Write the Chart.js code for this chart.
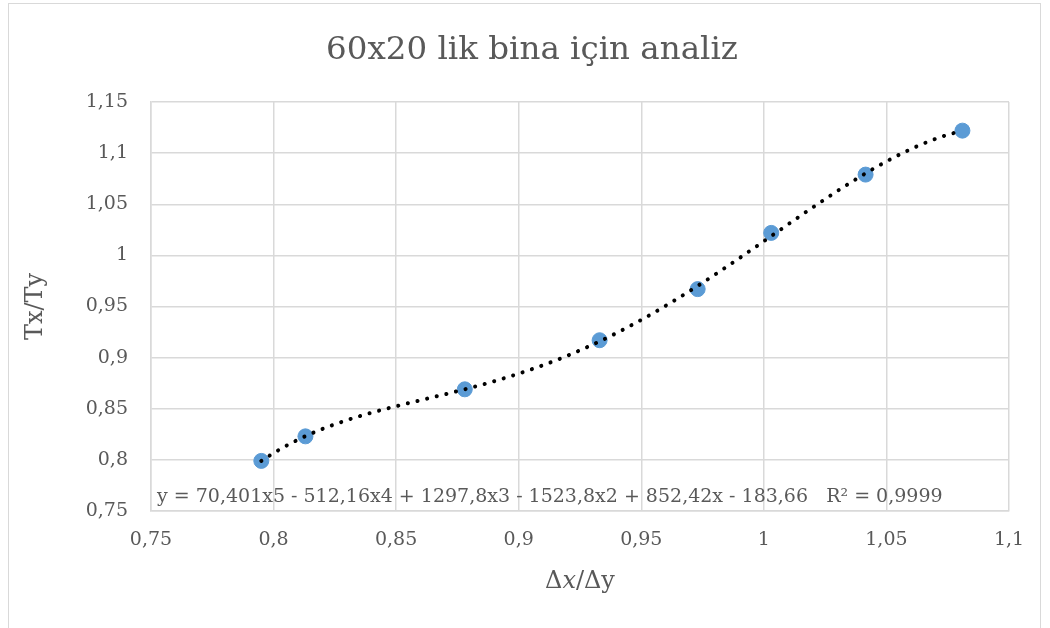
<!DOCTYPE html>
<html lang="tr">
<head>
    <meta charset="UTF-8">
    <title>60x20 lik bina için analiz</title>
    <script src="https://cdn.jsdelivr.net/npm/chart.js"></script>
    <style>
        html, body { margin: 0; padding: 0; background: #fff; }
        .frame {
            position: absolute; left: 8px; top: 3px; width: 1033px; height: 660px;
            border: 1px solid #d9d9d9; box-sizing: border-box;
        }
        .chart-box { position: absolute; left: 0; top: 0; width: 1050px; height: 628px; }
    </style>
</head>
<body>
    <div class="frame"></div>
    <div class="chart-box">
        <canvas id="grafik"></canvas>
    </div>

<script>
    // ölçülen değerler
    const dxdy = [0.795, 0.813, 0.878, 0.933, 0.973, 1.003, 1.0415, 1.081];
    const txty = [0.799, 0.823, 0.869, 0.917, 0.967, 1.022, 1.079, 1.122];
    // eksen sınırları ve adımlar
    const xEksen = { min: 0.75, max: 1.1, step: 0.05 };
    const yEksen = { min: 0.75, max: 1.15, step: 0.05 };
    const baslik = '60x20 lik bina için analiz';
    const denklem = 'y = 70,401x5 - 512,16x4 + 1297,8x3 - 1523,8x2 + 852,42x - 183,66   R² = 0,9999';

    const yazi = '"DejaVu Serif", "Liberation Serif", serif';
    const gri = '#595959';

    // 5. dereceden polinom eğilim çizgisi (en küçük kareler)
    function polinomUydur(xs, ys, derece) {
        const n = derece + 1;
        const ort = xs.reduce((a, b) => a + b, 0) / xs.length;
        const A = [], b = [];
        for (let i = 0; i < n; i++) {
            A.push(new Array(n).fill(0));
            b.push(0);
        }
        xs.forEach((x, k) => {
            const t = x - ort;
            for (let i = 0; i < n; i++) {
                for (let j = 0; j < n; j++) A[i][j] += Math.pow(t, i + j);
                b[i] += Math.pow(t, i) * ys[k];
            }
        });
        // gauss eliminasyonu
        for (let c = 0; c < n; c++) {
            let p = c;
            for (let r = c + 1; r < n; r++) if (Math.abs(A[r][c]) > Math.abs(A[p][c])) p = r;
            [A[c], A[p]] = [A[p], A[c]];
            [b[c], b[p]] = [b[p], b[c]];
            for (let r = c + 1; r < n; r++) {
                const f = A[r][c] / A[c][c];
                for (let j = c; j < n; j++) A[r][j] -= f * A[c][j];
                b[r] -= f * b[c];
            }
        }
        const k = new Array(n).fill(0);
        for (let i = n - 1; i >= 0; i--) {
            let s = b[i];
            for (let j = i + 1; j < n; j++) s -= A[i][j] * k[j];
            k[i] = s / A[i][i];
        }
        return x => k.reduce((s, c, i) => s + c * Math.pow(x - ort, i), 0);
    }

    const trend = polinomUydur(dxdy, txty, 5);
    const trendNoktalari = [];
    const x0 = Math.min(...dxdy), x1 = Math.max(...dxdy);
    for (let i = 0; i <= 120; i++) {
        const x = x0 + (x1 - x0) * i / 120;
        trendNoktalari.push({ x: x, y: trend(x) });
    }

    const virgul = v => String(Math.round(v * 100) / 100).replace('.', ',');

    // başlık (çerçevenin ortasında) ve denklem yazısı (çizim alanının sol altında)
    const yaziEklentisi = {
        id: 'yazilar',
        afterDraw(chart) {
            const ctx = chart.ctx, a = chart.chartArea;
            ctx.save();
            ctx.fillStyle = gri;
            ctx.font = '32.5px ' + yazi;
            ctx.textAlign = 'center';
            ctx.textBaseline = 'middle';
            ctx.fillText(baslik, (chart.width + 14) / 2, 51);
            ctx.font = '19px ' + yazi;
            ctx.textAlign = 'left';
            ctx.textBaseline = 'alphabetic';
            ctx.fillText(denklem, a.left + 6, a.bottom - 9);
            ctx.restore();
        }
    };

    const ctx = document.getElementById('grafik').getContext('2d');
    const grafik = new Chart(ctx, {
        type: 'scatter',
        data: {
            datasets: [
                {
                    label: 'Eğilim',
                    data: trendNoktalari,
                    showLine: true,
                    borderColor: '#000',
                    borderWidth: 4,
                    borderDash: [0.1, 9.8],
                    borderCapStyle: 'round',
                    pointRadius: 0,
                    order: 0
                },
                {
                    label: 'Tx/Ty',
                    data: dxdy.map((x, i) => ({ x: x, y: txty[i] })),
                    backgroundColor: '#5b9bd5',
                    borderColor: '#5b9bd5',
                    pointRadius: 7.5,
                    order: 1
                }
            ]
        },
        plugins: [yaziEklentisi],
        options: {
            responsive: true,
            maintainAspectRatio: false,
            animation: false,
            layout: { padding: { left: 0, right: 41, top: 102, bottom: 0 } },
            plugins: {
                legend: { display: false },
                tooltip: { enabled: false },
                title: { display: false }
            },
            scales: {
                x: {
                    type: 'linear',
                    min: xEksen.min,
                    max: xEksen.max,
                    afterFit: s => { s.height = 117; },
                    ticks: {
                        stepSize: xEksen.step,
                        color: gri,
                        font: { family: yazi, size: 19 },
                        padding: 18,
                        callback: virgul
                    },
                    grid: { color: '#d9d9d9', lineWidth: 1.5, drawTicks: false },
                    border: { color: '#d9d9d9', width: 1.5 },
                    title: {
                        display: true,
                        text: 'Δ𝑥/Δy',
                        color: gri,
                        font: { family: yazi, size: 24 },
                        padding: { top: 8, bottom: 32 }
                    }
                },
                y: {
                    type: 'linear',
                    min: yEksen.min,
                    max: yEksen.max,
                    afterFit: s => { s.width = 151; },
                    ticks: {
                        stepSize: yEksen.step,
                        color: gri,
                        font: { family: yazi, size: 19 },
                        padding: 23,
                        callback: virgul
                    },
                    grid: { color: '#d9d9d9', lineWidth: 1.5, drawTicks: false },
                    border: { color: '#d9d9d9', width: 1.5 },
                    title: {
                        display: true,
                        text: 'Tx/Ty',
                        color: gri,
                        font: { family: yazi, size: 24 },
                        padding: { top: 21, bottom: 4 }
                    }
                }
            }
        }
    });
</script>
</body>
</html>
